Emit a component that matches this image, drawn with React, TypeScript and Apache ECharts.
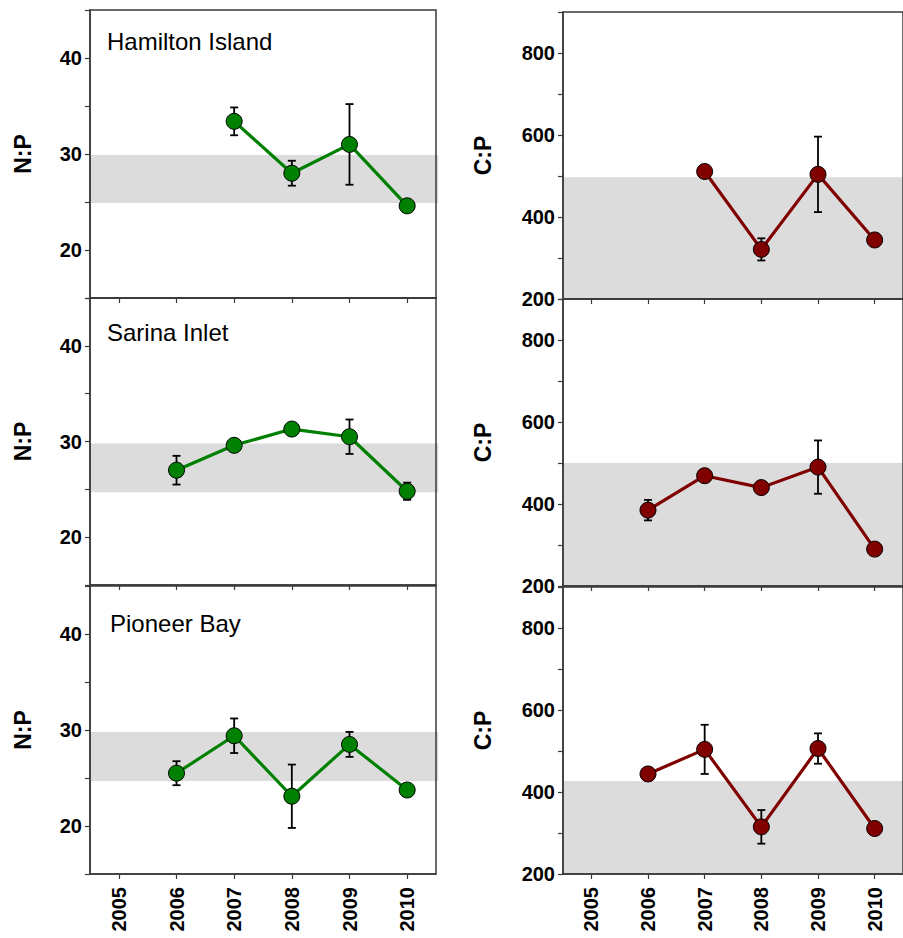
import React, { useEffect, useRef } from 'react';
import * as echarts from 'echarts';

const years = ['2005', '2006', '2007', '2008', '2009', '2010'];
const siteNames = ['Hamilton Island', 'Sarina Inlet', 'Pioneer Bay'];

// N:P means and standard errors
const npHamilton = [null, null, 33.4, 28.0, 31.0, 24.6];
const npHamiltonSE = [null, null, 1.45, 1.3, 4.2, null];
const npSarina = [null, 27.0, 29.6, 31.3, 30.5, 24.8];
const npSarinaSE = [null, 1.5, 0.4, 0.5, 1.8, 0.9];
const npPioneer = [null, 25.5, 29.4, 23.1, 28.5, 23.75];
const npPioneerSE = [null, 1.25, 1.8, 3.3, 1.3, null];

// C:P means and standard errors
const cpHamilton = [null, null, 511, 321, 504, 344];
const cpHamiltonSE = [null, null, null, 27, 92, null];
const cpSarina = [null, 385, 469, 440, 490, 290];
const cpSarinaSE = [null, 25, null, null, 65, null];
const cpPioneer = [null, 444, 504, 315, 506, 311];
const cpPioneerSE = [null, null, 60, 41, 37, null];

// Reference (shaded) ranges
const npBands = [[24.9, 29.9], [24.7, 29.8], [24.7, 29.8]];
const cpBands = [[200, 497], [200, 500], [200, 427]];

const npLabels = [20, 30, 40];
const cpLabels = [200, 400, 600, 800];

const npSets = [npHamilton, npSarina, npPioneer];
const npSEs = [npHamiltonSE, npSarinaSE, npPioneerSE];
const cpSets = [cpHamilton, cpSarina, cpPioneer];
const cpSEs = [cpHamiltonSE, cpSarinaSE, cpPioneerSE];

const FONT = '"Liberation Sans", Arial, Helvetica, sans-serif';
const AXIS_COLOR = '#3a3a3a';
const GREEN = '#008000';
const DARKRED = '#800000';

function buildOption() {
  const grids: any[] = [];
  const xAxes: any[] = [];
  const yAxes: any[] = [];
  const series: any[] = [];
  const titles: any[] = [];

  const leftTops = [10, 298, 586];
  const leftHeights = [288, 287, 288];
  const rightTops = [12, 299, 587];
  const rightHeights = [287, 287, 287];
  const titleLeft = [107, 107, 110];
  const titleTop = [29, 320, 611];

  for (let i = 0; i < 3; i++) {
    for (let side = 0; side < 2; side++) {
      const gi = i * 2 + side;
      const isNP = side === 0;
      grids.push({
        left: isNP ? 90 : 563,
        top: isNP ? leftTops[i] : rightTops[i],
        width: 346,
        height: isNP ? leftHeights[i] : rightHeights[i],
        show: true,
        borderColor: AXIS_COLOR,
        borderWidth: 1.5,
        backgroundColor: 'transparent',
        containLabel: false,
      });
      xAxes.push({
        type: 'category',
        gridIndex: gi,
        data: years,
        boundaryGap: true,
        axisLine: { show: true, lineStyle: { color: AXIS_COLOR, width: 1.5 } },
        axisTick: { show: true, alignWithLabel: true, interval: 0, length: 5, inside: false, lineStyle: { color: AXIS_COLOR, width: 1.2 } },
        axisLabel: {
          show: i === 2,
          interval: 0,
          rotate: 90,
          margin: 13,
          color: '#000',
          fontWeight: 'bold',
          fontSize: 20,
          fontFamily: FONT,
        },
        splitLine: { show: false },
      });
      const labels = isNP ? npLabels : cpLabels;
      yAxes.push({
        type: 'value',
        gridIndex: gi,
        min: isNP ? 15 : 200,
        max: isNP ? 45 : 900,
        interval: isNP ? 5 : 100,
        name: isNP ? 'N:P' : 'C:P',
        nameLocation: 'middle',
        nameRotate: 90,
        nameGap: isNP ? 56 : 69,
        nameTextStyle: { fontSize: 23, fontWeight: 'bold', color: '#000', fontFamily: FONT },
        axisLine: { show: true, lineStyle: { color: AXIS_COLOR, width: 1.5 } },
        axisTick: { show: true, length: 5, inside: false, lineStyle: { color: AXIS_COLOR, width: 1.2 } },
        axisLabel: {
          show: true,
          margin: 8,
          color: '#000',
          fontWeight: 'bold',
          fontSize: 20,
          fontFamily: FONT,
          formatter: (v: number) => (labels.indexOf(v) >= 0 ? String(v) : ''),
        },
        splitLine: { show: false },
      });

      const band = isNP ? npBands[i] : cpBands[i];
      series.push({
        type: 'custom',
        xAxisIndex: gi,
        yAxisIndex: gi,
        z: -1,
        silent: true,
        data: [[0, band[0], band[1]]],
        encode: { x: 0, y: [1, 2] },
        renderItem: (params: any, api: any) => {
          const cs = params.coordSys;
          const pLo = api.coord([0, api.value(1)]);
          const pHi = api.coord([0, api.value(2)]);
          return {
            type: 'rect',
            shape: { x: cs.x + 0.75, y: pHi[1], width: cs.width + 1.5, height: pLo[1] - pHi[1] },
            style: { fill: '#dcdcdc' },
          };
        },
      });

      const vals = isNP ? npSets[i] : cpSets[i];
      const ses = isNP ? npSEs[i] : cpSEs[i];
      const errData: any[] = [];
      vals.forEach((v, k) => {
        const se = ses[k];
        if (v != null && se != null) errData.push([k, v - se, v + se]);
      });
      series.push({
        type: 'custom',
        xAxisIndex: gi,
        yAxisIndex: gi,
        z: 2,
        silent: true,
        data: errData,
        encode: { x: 0, y: [1, 2] },
        renderItem: (params: any, api: any) => {
          const x = api.value(0);
          const lo = api.coord([x, api.value(1)]);
          const hi = api.coord([x, api.value(2)]);
          const cap = 4;
          const st = { stroke: '#000', lineWidth: 1.8 };
          return {
            type: 'group',
            children: [
              { type: 'line', shape: { x1: lo[0], y1: lo[1], x2: hi[0], y2: hi[1] }, style: st },
              { type: 'line', shape: { x1: lo[0] - cap, y1: lo[1], x2: lo[0] + cap, y2: lo[1] }, style: st },
              { type: 'line', shape: { x1: hi[0] - cap, y1: hi[1], x2: hi[0] + cap, y2: hi[1] }, style: st },
            ],
          };
        },
      });

      const col = isNP ? GREEN : DARKRED;
      series.push({
        type: 'line',
        xAxisIndex: gi,
        yAxisIndex: gi,
        z: 3,
        data: vals,
        connectNulls: false,
        symbol: 'circle',
        symbolSize: 16,
        showSymbol: true,
        lineStyle: { color: col, width: 3.2 },
        itemStyle: { color: col, borderColor: '#000', borderWidth: 1 },
        emphasis: { disabled: true },
      });
    }
    titles.push({
      text: siteNames[i],
      left: titleLeft[i],
      top: titleTop[i],
      padding: 0,
      textStyle: { fontSize: 24, fontWeight: 'normal', color: '#000', fontFamily: FONT },
    });
  }

  return {
    animation: false,
    backgroundColor: '#fff',
    title: titles,
    grid: grids,
    xAxis: xAxes,
    yAxis: yAxes,
    series,
  };
}

export default function App() {
  const ref = useRef<HTMLDivElement>(null);
  useEffect(() => {
    if (!ref.current) return;
    const chart = echarts.init(ref.current, undefined, { renderer: 'svg' });
    chart.setOption(buildOption() as any);
    return () => chart.dispose();
  }, []);
  return (
    <div
      ref={ref}
      style={{ position: 'fixed', left: 0, top: 0, width: 903, height: 938, background: '#fff' }}
    />
  );
}
